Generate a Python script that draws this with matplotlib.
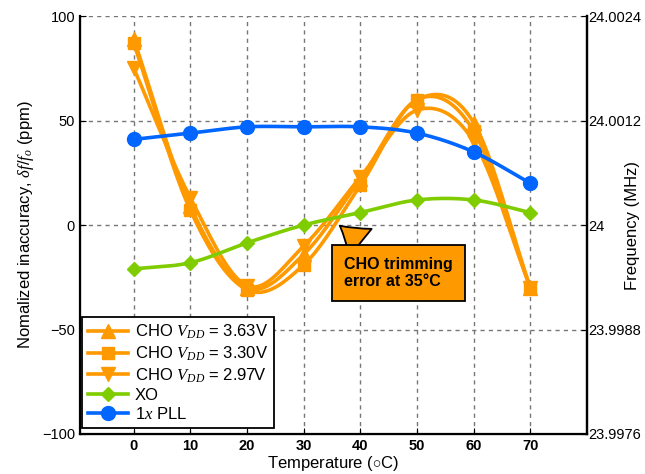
import numpy as np
import matplotlib
matplotlib.use("Agg")
import matplotlib.pyplot as plt

plt.rcParams['font.family'] = ['Liberation Sans', 'DejaVu Sans']
plt.rcParams['mathtext.fontset'] = 'custom'
plt.rcParams['mathtext.rm'] = 'Liberation Sans'
plt.rcParams['mathtext.it'] = 'Liberation Serif:italic'
plt.rcParams['mathtext.bf'] = 'Liberation Sans:bold'

temps = [0, 10, 20, 30, 40, 50, 60, 70]
cho_363 = [89, 9, -30, -14, 22, 60, 49, -30]
cho_330 = [87, 7, -31, -19, 19, 60, 45, -30]
cho_297 = [75, 13, -29, -10, 23, 55, 40, -30]
xo = [-21, -18, -8.5, 0, 6, 12, 12, 6]
pll = [41, 44, 47, 47, 47, 44, 35, 20]
freq_ticks = [23.9976, 23.9988, 24.0, 24.0012, 24.0024]
freq_labels = ["23.9976", "23.9988", "24", "24.0012", "24.0024"]

ORANGE = '#FF9900'
GREEN = '#7FCC00'
BLUE = '#0066FF'


def smooth(x, y, n=20):
    # catmull-rom line through the points, like a spreadsheet "smoothed line"
    x = np.asarray(x, float)
    y = np.asarray(y, float)
    px = np.concatenate([[2 * x[0] - x[1]], x, [2 * x[-1] - x[-2]]])
    py = np.concatenate([[2 * y[0] - y[1]], y, [2 * y[-1] - y[-2]]])
    t = np.linspace(0, 1, n, endpoint=False)[:, None]
    xs, ys = [], []
    for i in range(1, len(px) - 2):
        for p, out in ((px, xs), (py, ys)):
            p0, p1, p2, p3 = p[i - 1], p[i], p[i + 1], p[i + 2]
            v = 0.5 * (2 * p1 + (-p0 + p2) * t + (2 * p0 - 5 * p1 + 4 * p2 - p3) * t ** 2
                       + (-p0 + 3 * p1 - 3 * p2 + p3) * t ** 3)
            out.extend(v.ravel())
    xs.append(x[-1])
    ys.append(y[-1])
    return np.array(xs), np.array(ys)


fig = plt.figure(figsize=(6.45, 4.74), dpi=100)
ax = fig.add_axes([0.124, 0.0844, 0.786, 0.8816])

series = [
    (cho_363, ORANGE, '^', 10, "CHO $V_{DD}$ = 3.63V"),
    (cho_330, ORANGE, 's', 8.5, "CHO $V_{DD}$ = 3.30V"),
    (cho_297, ORANGE, 'v', 10, "CHO $V_{DD}$ = 2.97V"),
    (xo, GREEN, 'D', 7, "XO"),
    (pll, BLUE, 'o', 10, "1$x$ PLL"),
]
handles = []
for vals, col, mk, ms, lab in series:
    sx, sy = smooth(temps, vals)
    ax.plot(sx, sy, '-', color=col, lw=2.6, zorder=3)
    ax.plot(temps, vals, linestyle='none', marker=mk, ms=ms, color=col, zorder=4)
    h, = ax.plot([], [], '-', color=col, lw=2.6, marker=mk, ms=ms, label=lab)
    handles.append(h)

ax.set_xlim(-9.5, 80)
ax.set_ylim(-100, 100)
ax.set_xticks(temps)
ax.set_yticks([-100, -50, 0, 50, 100])
for lbl in ax.get_xticklabels():
    lbl.set_fontweight('bold')
ax.tick_params(axis='both', direction='in', labelsize=10.5, length=4)
ax.grid(True, linestyle='--', color='#777777', lw=1, dashes=(3, 3))
ax.spines['top'].set_visible(False)
for s in ('left', 'bottom', 'right'):
    ax.spines[s].set_linewidth(1.6)

ax.set_xlabel("Temperature ($\\circ$C)", fontsize=12, labelpad=1)
ax.set_ylabel("Nomalized inaccuracy, $\\delta f/f_o$ (ppm)", fontsize=12, labelpad=4)

ax2 = ax.twinx()
ax2.set_ylim(23.9976, 24.0024)
ax2.set_yticks(freq_ticks)
ax2.set_yticklabels(freq_labels)
ax2.tick_params(axis='y', direction='in', labelsize=10.5, length=4, pad=1)
ax2.spines['top'].set_visible(False)
ax2.spines['right'].set_linewidth(1.6)
ax2.set_ylabel("Frequency (MHz)", fontsize=12)
ax2.yaxis.set_label_coords(1.075, 0.5)

leg = ax.legend(handles=handles, loc='lower left', bbox_to_anchor=(0.004, 0.014),
                borderaxespad=0, fontsize=12, fancybox=False, framealpha=1,
                edgecolor='black', handlelength=2.4, handletextpad=0.4,
                labelspacing=0.2, borderpad=0.35)
leg.get_frame().set_linewidth(1.3)
leg.set_zorder(10)

ax.annotate("CHO trimming\nerror at 35°C", xy=(36, 0.5), xytext=(46.7, -23),
            ha='center', va='center', multialignment='left',
            fontsize=11.5, fontweight='bold',
            bbox=dict(boxstyle='square,pad=0.75', fc=ORANGE, ec='black', lw=1.3),
            arrowprops=dict(arrowstyle='wedge,tail_width=2.2,shrink_factor=0.45',
                            fc=ORANGE, ec='black', lw=1.3),
            zorder=9)

fig.savefig("out.png", dpi=100)
